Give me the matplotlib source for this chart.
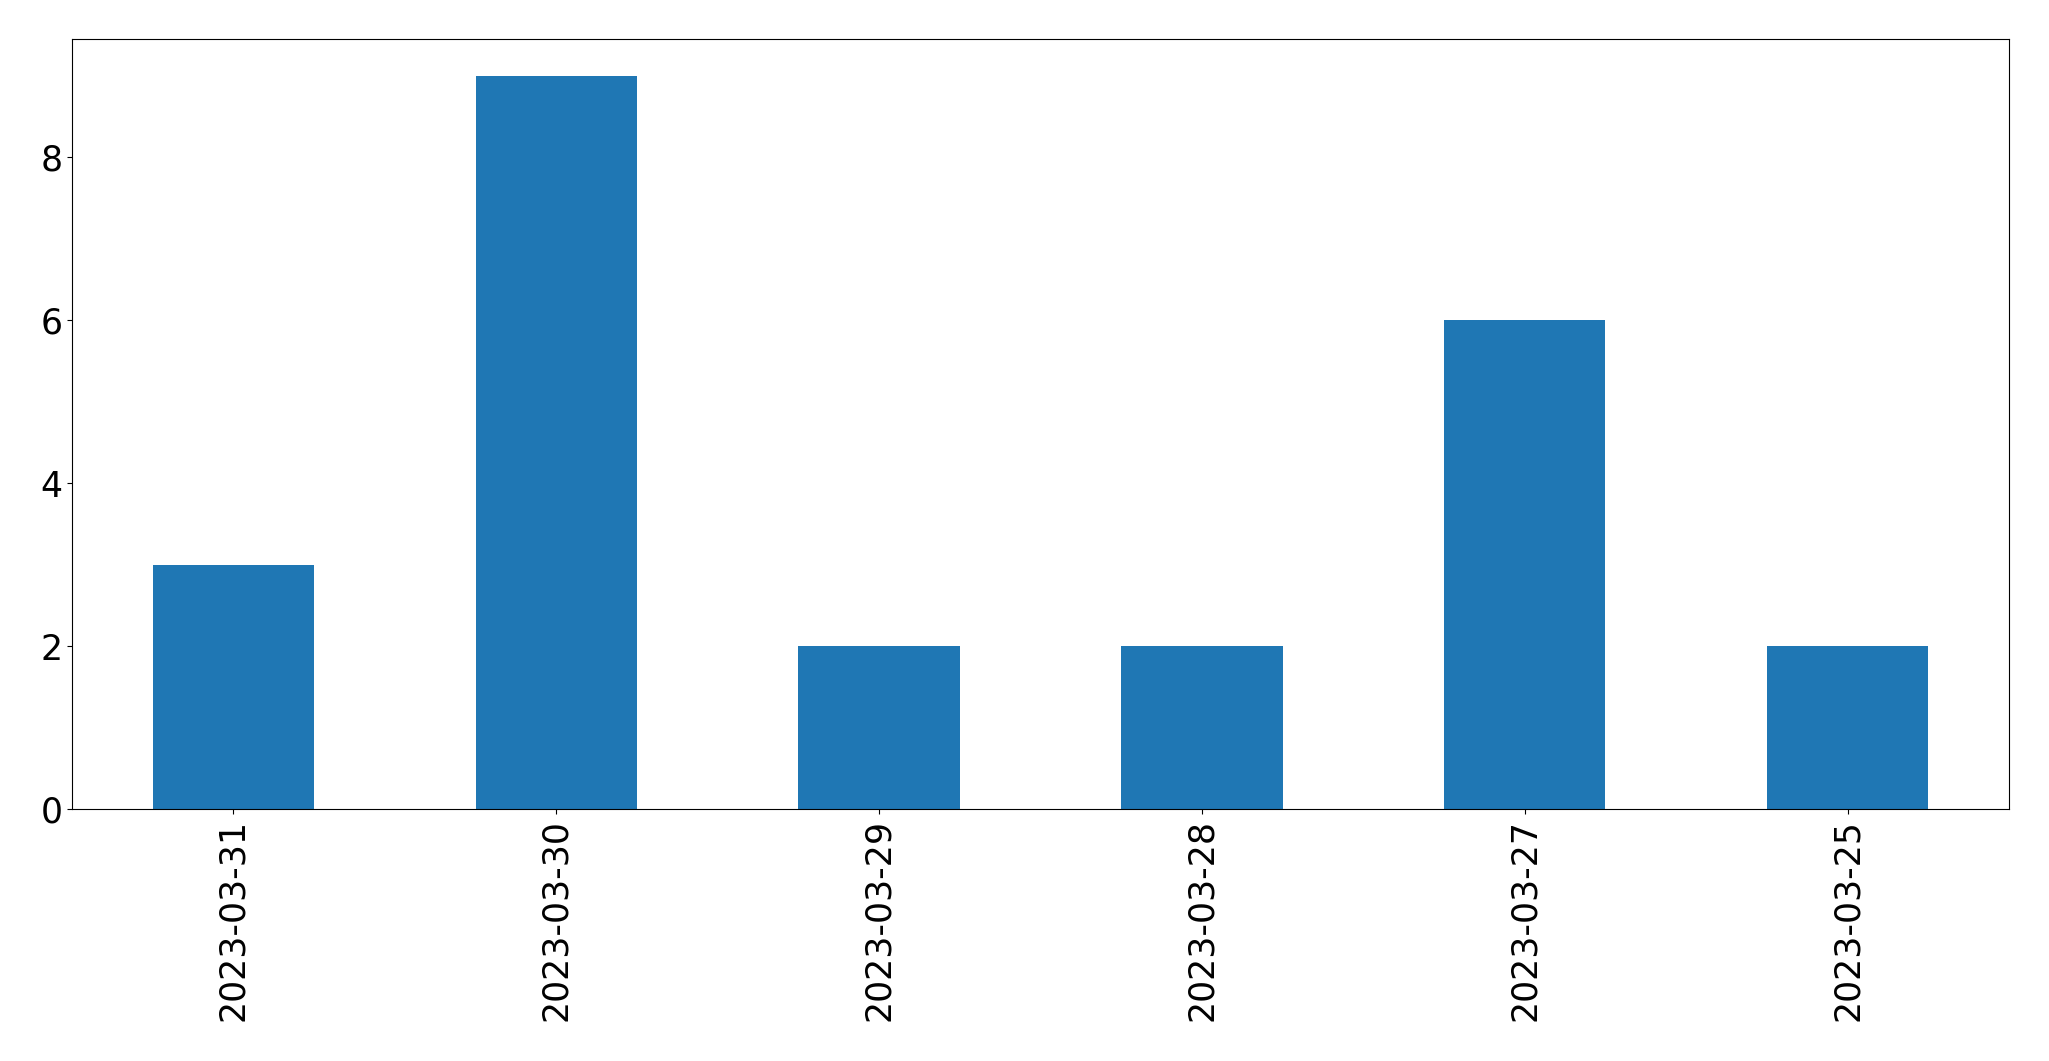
import matplotlib
matplotlib.use("Agg")
import matplotlib.pyplot as plt
import numpy as np

# data
dates = ['2023-03-31', '2023-03-30', '2023-03-29', '2023-03-28', '2023-03-27', '2023-03-25']
counts = [3, 9, 2, 2, 6, 2]

fig = plt.figure(figsize=(20.49, 10.61), dpi=100)
ax = fig.add_axes([72 / 2049, 1 - 809 / 1061, (2009 - 72) / 2049, (809 - 39) / 1061])

x = np.arange(len(dates))
ax.bar(x, counts, width=0.5, color='#1f77b4')
ax.set_xlim(-0.5, len(dates) - 0.5)
ax.set_xticks(x)
ax.set_xticklabels(dates, rotation=90)
ax.tick_params(axis='both', labelsize=25)

fig.savefig('out.png', dpi=100)
